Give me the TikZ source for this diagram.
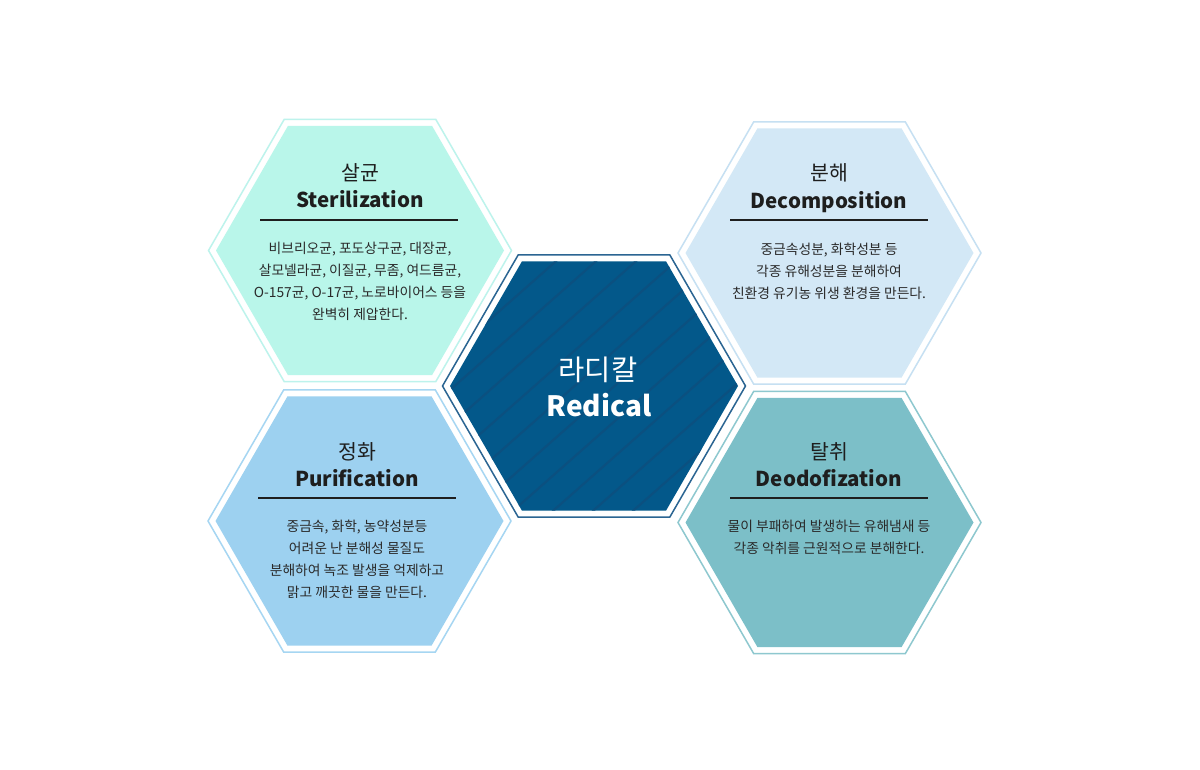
\documentclass[tikz,border=0pt]{standalone}
\usepackage{fontspec}
\setmainfont{Noto Sans CJK KR}
\usetikzlibrary{shapes.geometric}
\definecolor{mintfill}{HTML}{B9F6EA}
\definecolor{mintline}{HTML}{BDF3EC}
\definecolor{skyfill}{HTML}{D3E8F6}
\definecolor{skyline}{HTML}{C6E0F2}
\definecolor{bluefill}{HTML}{9DD1F0}
\definecolor{blueline}{HTML}{A6D6F2}
\definecolor{tealfill}{HTML}{7CBFC8}
\definecolor{tealline}{HTML}{8EC8CF}
\definecolor{navyfill}{HTML}{03588A}
\definecolor{navyline}{HTML}{2B6592}
\definecolor{navystripe}{HTML}{0B5080}
\definecolor{ink}{HTML}{1E1E1E}
\definecolor{bodyink}{HTML}{2A2A2A}
\tikzset{
  hexfill/.style={regular polygon, regular polygon sides=6, minimum size=288pt,
    inner sep=0pt, outer sep=0pt, draw=none},
  hexring/.style={regular polygon, regular polygon sides=6, minimum size=303pt,
    inner sep=0pt, outer sep=0pt, line width=1.5pt, fill=none},
  titlekr/.style={text=ink, font={\fontsize{20.5}{24}\selectfont}, inner sep=0pt},
  titleen/.style={text=ink, font={\fontsize{20.5}{24}\selectfont\bfseries}, inner sep=0pt, anchor=base},
  bodytxt/.style={text=bodyink, align=center, font={\fontsize{13.8}{22}\selectfont}, inner sep=0pt},
  sepline/.style={draw=ink, line width=2pt},
  stripe/.style={draw=navystripe, line width=2.2pt},
}
\begin{document}
\begin{tikzpicture}[x=1pt,y=-1pt]
\useasboundingbox (0,0) rectangle (1200,770);
\fill[white] (0,0) rectangle (1200,770);

% hexagons
\node[hexring, draw=mintline] (r1) at (360,250.5) {};
\node[hexfill, fill=mintfill] (h1) at (360,250.5) {};
\node[hexring, draw=skyline] (r2) at (829.5,253) {};
\node[hexfill, fill=skyfill] (h2) at (829.5,253) {};
\node[hexring, draw=blueline] (r3) at (359.5,521) {};
\node[hexfill, fill=bluefill] (h3) at (359.5,521) {};
\node[hexring, draw=tealline] (r4) at (829.5,522.5) {};
\node[hexfill, fill=tealfill] (h4) at (829.5,522.5) {};
\node[hexring, draw=navyline] (r0) at (594,386) {};
\node[hexfill, fill=navyfill] (hub) at (594,386) {};

\begin{scope}
  \clip (hub.corner 1) -- (hub.corner 2) -- (hub.corner 3) -- (hub.corner 4)
        -- (hub.corner 5) -- (hub.corner 6) -- cycle;
  \foreach \k in {-8,...,10}
    \draw[stripe] ({400+\k*40},540) -- ++(340,-300);
\end{scope}

% centre
\node[text=white, font={\fontsize{28.5}{32}\selectfont}, inner sep=0pt] (ckr) at (598,370) {라디칼};
\node[text=white, font={\fontsize{28}{32}\selectfont\bfseries}, inner sep=0pt, anchor=base] (cen) at (599,416.5) {Redical};

% Sterilization
\node[titlekr] (t1) at (360,173) {살균};
\node[titleen] (e1) at (360,207.7) {Sterilization};
\coordinate (l1a) at (260,220); \coordinate (l1b) at (458,220);
\draw[sepline] (l1a) -- (l1b);
\node[bodytxt] (b1) at (360,281.5) {비브리오균, 포도상구균, 대장균,\\살모넬라균, 이질균, 무좀, 여드름균,\\O-157균, O-17균, 노로바이어스 등을\\완벽히 제압한다.};

% Decomposition
\node[titlekr] (t2) at (829,173) {분해};
\node[titleen] (e2) at (829,208.2) {Decomposition};
\coordinate (l2a) at (730,220); \coordinate (l2b) at (928,220);
\draw[sepline] (l2a) -- (l2b);
\node[bodytxt] (b2) at (829,271) {중금속성분, 화학성분 등\\각종 유해성분을 분해하여\\친환경 유기농 위생 환경을 만든다.};

% Purification
\node[titlekr] (t3) at (357,452) {정화};
\node[titleen] (e3) at (357,486) {Purification};
\coordinate (l3a) at (258,498); \coordinate (l3b) at (456,498);
\draw[sepline] (l3a) -- (l3b);
\node[bodytxt] (b3) at (357,559.5) {중금속, 화학, 농약성분등\\어려운 난 분해성 물질도\\분해하여 녹조 발생을 억제하고\\맑고 깨끗한 물을 만든다.};

% Deodofization
\node[titlekr] (t4) at (829,452) {탈취};
\node[titleen] (e4) at (829,486) {Deodofization};
\coordinate (l4a) at (730,498); \coordinate (l4b) at (928,498);
\draw[sepline] (l4a) -- (l4b);
\node[bodytxt] (b4) at (829,537.5) {물이 부패하여 발생하는 유해냄새 등\\각종 악취를 근원적으로 분해한다.};
\end{tikzpicture}
\end{document}
